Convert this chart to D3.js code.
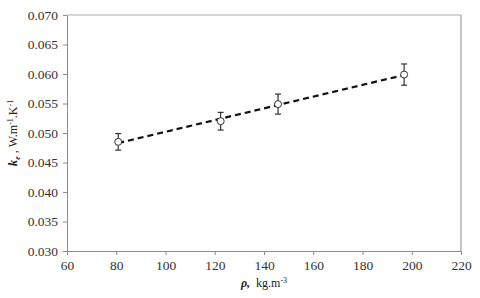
<!DOCTYPE html>
<html>
<head>
<meta charset="utf-8">
<script src="https://cdn.jsdelivr.net/npm/d3@7"></script>
<style>
    body { margin: 0; background: #fff; }
    svg { display: block; }
    .tick text { font-family: "Liberation Serif", "DejaVu Serif", serif; font-size: 13.5px; fill: #333; }
    .axis path, .axis line { stroke: #8c8c8c; }
</style>
</head>
<body>
<div id="chart"></div>
<script>
// density values (kg.m-3)
const density = [80.8, 122.4, 145.7, 196.9];
// effective conductivity (W.m-1.K-1)
const conductivity = [0.0485, 0.0520, 0.0549, 0.0599];
// error bar half widths
const errors = [0.0014, 0.0015, 0.0017, 0.0018];

const xTicks = [60, 80, 100, 120, 140, 160, 180, 200, 220];
const yTicks = [0.030, 0.035, 0.040, 0.045, 0.050, 0.055, 0.060, 0.065, 0.070];

const width = 480;
const height = 298;
const margin = { top: 15, right: 19, bottom: 47, left: 67 };

const svg = d3.select('#chart')
    .append('svg')
    .attr('width', width)
    .attr('height', height);

const x = d3.scaleLinear().domain([60, 220]).range([margin.left, width - margin.right]);
const y = d3.scaleLinear().domain([0.030, 0.070]).range([height - margin.bottom, margin.top]);

// frame (top & right)
svg.append('line')
    .attr('x1', x(60)).attr('x2', x(220))
    .attr('y1', y(0.070)).attr('y2', y(0.070))
    .attr('stroke', '#c8c8c8').attr('stroke-width', 1.5);
svg.append('line')
    .attr('x1', x(220)).attr('x2', x(220))
    .attr('y1', y(0.070)).attr('y2', y(0.030))
    .attr('stroke', '#8c8c8c');

// axes
svg.append('g')
    .attr('class', 'axis x-axis')
    .attr('transform', `translate(0, ${y(0.030)})`)
    .call(d3.axisBottom(x).tickValues(xTicks).tickSize(4).tickSizeOuter(0).tickPadding(5));

svg.append('g')
    .attr('class', 'axis y-axis')
    .attr('transform', `translate(${x(60)}, 0)`)
    .call(d3.axisLeft(y).tickValues(yTicks).tickSize(4).tickSizeOuter(0).tickPadding(5)
        .tickFormat(d3.format('.3f')));

// linear trend line (least squares of the data)
const points = density.map((d, i) => ({ rho: d, k: conductivity[i], err: errors[i] }));
const mx = d3.mean(points, d => d.rho);
const my = d3.mean(points, d => d.k);
const slope = d3.sum(points, d => (d.rho - mx) * (d.k - my)) / d3.sum(points, d => (d.rho - mx) ** 2);
const icpt = my - slope * mx;
const ext = d3.extent(density);

svg.append('path')
    .datum(ext.map(v => ({ rho: v, k: icpt + slope * v })))
    .attr('d', d3.line().x(d => x(d.rho)).y(d => y(d.k)))
    .attr('stroke', '#111')
    .attr('stroke-width', 2.2)
    .attr('stroke-dasharray', '6,4')
    .attr('fill', 'none');

// error bars
const eb = svg.append('g').attr('stroke', '#222').attr('stroke-width', 1.1);
eb.selectAll('.bar').data(points).join('line')
    .attr('x1', d => x(d.rho)).attr('x2', d => x(d.rho))
    .attr('y1', d => y(d.k - d.err)).attr('y2', d => y(d.k + d.err));
eb.selectAll('.capt').data(points).join('line')
    .attr('x1', d => x(d.rho) - 3).attr('x2', d => x(d.rho) + 3)
    .attr('y1', d => y(d.k + d.err)).attr('y2', d => y(d.k + d.err));
eb.selectAll('.capb').data(points).join('line')
    .attr('x1', d => x(d.rho) - 3).attr('x2', d => x(d.rho) + 3)
    .attr('y1', d => y(d.k - d.err)).attr('y2', d => y(d.k - d.err));

// markers
svg.selectAll('.pt').data(points).join('circle')
    .attr('class', 'pt')
    .attr('cx', d => x(d.rho))
    .attr('cy', d => y(d.k))
    .attr('r', 3.5)
    .attr('fill', '#fff')
    .attr('stroke', '#333')
    .attr('stroke-width', 1);

// axis titles
const serif = '"Liberation Serif", "DejaVu Serif", serif';

const xt = svg.append('text')
    .attr('x', (x(60) + x(220)) / 2)
    .attr('y', 287)
    .attr('text-anchor', 'middle')
    .attr('font-family', serif)
    .attr('font-size', 12)
    .attr('fill', '#222');
xt.append('tspan').attr('font-weight', 'bold').attr('font-style', 'italic').text('ρ,');
xt.append('tspan').text('\u00a0 kg.m');
xt.append('tspan').attr('font-size', 8).attr('dy', -4).text('-3');

const yt = svg.append('text')
    .attr('transform', `translate(17, ${(y(0.030) + y(0.070)) / 2}) rotate(-90)`)
    .attr('text-anchor', 'middle')
    .attr('font-family', serif)
    .attr('font-size', 12)
    .attr('fill', '#222');
yt.append('tspan').attr('font-weight', 'bold').attr('font-style', 'italic').attr('font-size', 13).text('k');
yt.append('tspan').attr('font-weight', 'bold').attr('font-style', 'italic').attr('font-size', 8).attr('dy', 3).text('e');
yt.append('tspan').attr('dy', -3).text(' , W.m');
yt.append('tspan').attr('font-size', 8).attr('dy', -4).text('-1');
yt.append('tspan').attr('dy', 4).text('.K');
yt.append('tspan').attr('font-size', 8).attr('dy', -4).text('-1');
</script>
</body>
</html>
